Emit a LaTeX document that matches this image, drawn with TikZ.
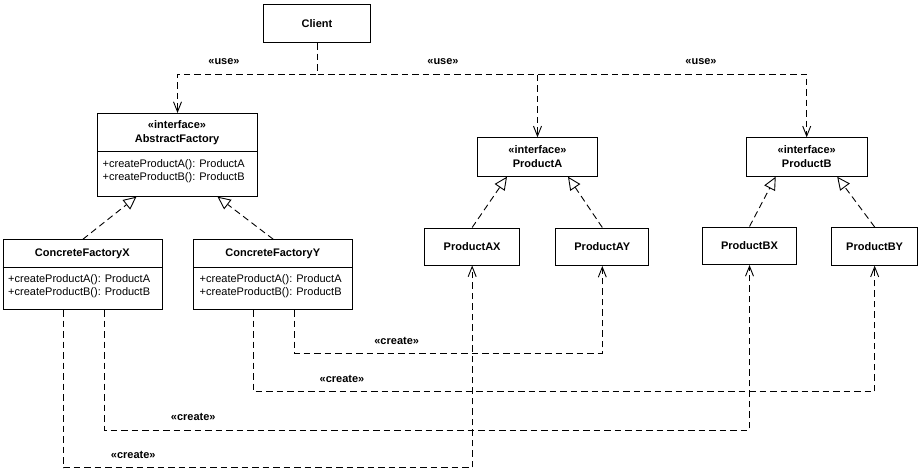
\documentclass[tikz,border=0pt]{standalone}
\usepackage{fontspec}
\setmainfont{Liberation Sans}
\usetikzlibrary{arrows.meta,calc}
\tikzset{
  x=1pt,y=1pt,
  box/.style={draw,line width=1pt,rectangle,inner sep=0pt,anchor=north west,fill=white},
  ttl/.style={font=\fontsize{11}{14}\selectfont\bfseries,align=center,inner sep=0pt},
  ops/.style={font=\fontsize{11}{12.8}\selectfont,align=left,inner sep=0pt,anchor=west},
  lbl/.style={font=\fontsize{11}{13}\selectfont\bfseries,inner sep=1pt},
  dep/.style={line width=0.9pt,dash pattern=on 6.5pt off 4pt,-{Straight Barb[length=10pt,width=8pt,line width=0.9pt]}},
  real/.style={line width=0.9pt,dash pattern=on 6.5pt off 4pt,-{Triangle[open,length=13pt,width=12pt,line width=0.9pt,fill=white]}},
}
\begin{document}
\begin{tikzpicture}
\useasboundingbox (0,0) rectangle (920,-476);

% Client
\node[box,minimum width=107,minimum height=38.3] (client) at (263,-4) {};
\node[ttl] (clientt) at (client.center) {Client};

% AbstractFactory
\node[box,minimum width=159.4,minimum height=82.7] (af) at (97.3,-113) {};
\node[ttl] (aft) at (177,-133) {«interface»\\AbstractFactory};
\draw[line width=1pt] (af.west |- 0,-151) -- (af.east |- 0,-151);
\node[ops] (afo) at (102.5,-171) {+createProductA(): ProductA\\+createProductB(): ProductB};

% ConcreteFactoryX
\node[box,minimum width=159.3,minimum height=69.7] (cfx) at (2.7,-239.3) {};
\node[ttl] (cfxt) at (82.3,-254) {ConcreteFactoryX};
\draw[line width=1pt] (cfx.west |- 0,-267.7) -- (cfx.east |- 0,-267.7);
\node[ops] (cfxo) at (8,-286.5) {+createProductA(): ProductA\\+createProductB(): ProductB};

% ConcreteFactoryY
\node[box,minimum width=159,minimum height=69.7] (cfy) at (193.3,-239.3) {};
\node[ttl] (cfyt) at (272.8,-254) {ConcreteFactoryY};
\draw[line width=1pt] (cfy.west |- 0,-267.7) -- (cfy.east |- 0,-267.7);
\node[ops] (cfyo) at (199.5,-286.5) {+createProductA(): ProductA\\+createProductB(): ProductB};

% Interfaces
\node[box,minimum width=120.6,minimum height=38.4] (pa) at (476.7,-137.3) {};
\node[ttl] (pat) at (pa.center) {«interface»\\ProductA};
\node[box,minimum width=121,minimum height=38.4] (pb) at (745.7,-137.3) {};
\node[ttl] (pbt) at (pb.center) {«interface»\\ProductB};

% Products
\node[box,minimum width=95.3,minimum height=37,font=\fontsize{11}{13}\selectfont\bfseries] (pax) at (424,-227.5) {ProductAX};
\node[box,minimum width=93,minimum height=37.5,font=\fontsize{11}{13}\selectfont\bfseries] (pay) at (555.3,-227.5) {ProductAY};
\node[box,minimum width=93.4,minimum height=37.5,font=\fontsize{11}{13}\selectfont\bfseries] (pbx) at (702.3,-226.5) {ProductBX};
\node[box,minimum width=86.3,minimum height=37.7,font=\fontsize{11}{13}\selectfont\bfseries] (pby) at (831,-227) {ProductBY};

% use dependencies
\coordinate (bus) at (316.5,-74);
\draw[dep] (client.south) -- (client.south |- bus) -| (af.north);
\draw[dep] (client.south) -- (client.south |- bus) -| (pa.north);
\draw[dep] (client.south) -- (client.south |- bus) -| (pb.north);
\node[lbl] (u1) at (224,-62) {«use»};
\node[lbl] (u2) at (443,-62) {«use»};
\node[lbl] (u3) at (701,-62) {«use»};

% realizations
\draw[real] (cfx.north) -- ([xshift=-41pt]af.south);
\draw[real] (cfy.north) -- ([xshift=40pt]af.south);
\draw[real] (pax.north) -- ([xshift=-30.5pt]pa.south);
\draw[real] (pay.north) -- ([xshift=30.5pt]pa.south);
\draw[real] (pbx.north) -- ([xshift=-31pt]pb.south);
\draw[real] (pby.north) -- ([xshift=30.5pt]pb.south);

% create dependencies
\coordinate (r1) at (0,-353.3);
\coordinate (r2) at (0,-391.7);
\coordinate (r3) at (0,-430);
\coordinate (r4) at (0,-467.7);
\draw[dep] ([xshift=21.2pt]cfy.south) |- (pay.south |- r1) -- (pay.south);
\draw[dep] ([xshift=-20pt]cfy.south) |- (pby.south |- r2) -- (pby.south);
\draw[dep] ([xshift=21.7pt]cfx.south) |- (pbx.south |- r3) -- (pbx.south);
\draw[dep] ([xshift=-19.6pt]cfx.south) |- (pax.south |- r4) -- (pax.south);
\node[lbl] (c1) at (396.7,-341) {«create»};
\node[lbl] (c2) at (342,-379) {«create»};
\node[lbl] (c3) at (193.3,-416.7) {«create»};
\node[lbl] (c4) at (133.3,-455) {«create»};
\end{tikzpicture}
\end{document}
